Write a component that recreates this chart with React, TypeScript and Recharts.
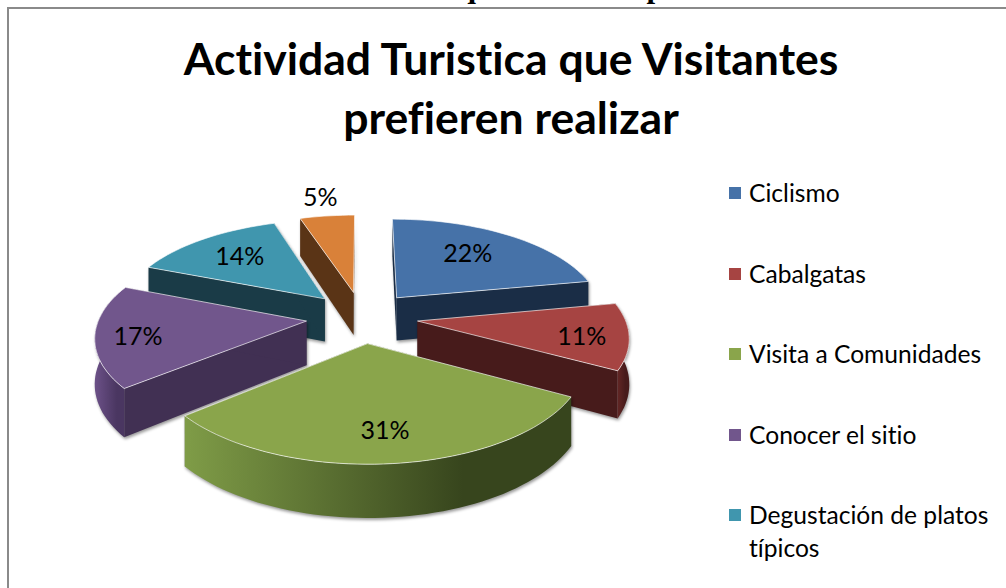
import React from "react";
import { PieChart, Pie, Legend } from "recharts";

const categories = [
  "Ciclismo",
  "Cabalgatas",
  "Visita a Comunidades",
  "Conocer el sitio",
  "Degustación de platos típicos",
  "Otros",
];
const shares = [22, 11, 31, 17, 14, 5];
const topColors = ["#4672a8", "#a64442", "#8aa54b", "#71568c", "#4096ae", "#d98139"];
const faceColors = ["#1a2d46", "#471b1b", "#3a4a1e", "#413053", "#1a3b47", "#5a3416"];
const wallFrom = ["#2a4570", "#6b2a28", "#7f9c47", "#6c5188", "#25566a", "#7a4a20"];
const wallTo = ["#1a2d46", "#471b1b", "#37451d", "#4a3661", "#1a3b47", "#5a3416"];
// label placement per slice: how far along the radius, and degrees off the middle
const labelReach = [0.68, 0.78, 0.74, 0.8, 0.7, 1.31];
const labelTurn = [-3, 1, 0, -1, 1, 0];
// back slices first so the front ones cover them
const paintOrder = [5, 4, 0, 3, 1, 2];
const legendCount = 5;

const pieData = categories.map((name, i) => ({ name, value: shares[i], slot: i }));

const WIDTH = 1006;
const HEIGHT = 588;
const TILT = 0.459; // ground plane squash
const PERSPECTIVE = 7;
const EXPLODE = 0.27;
const DEPTH = 44;

const unit = (angle: number) => {
  const t = ((90 - angle) * Math.PI) / 180;
  return [Math.sin(t), -Math.cos(t)];
};

const project = (cx: number, cy: number, r: number, u: number, v: number, z = 0) => {
  const s = 1 / (1 - v / PERSPECTIVE);
  return [cx + r * u * s, cy + (r * TILT * v + z) * s];
};

const toPath = (pts: number[][]) =>
  pts.map((p, i) => `${i ? "L" : "M"}${p[0].toFixed(1)} ${p[1].toFixed(1)}`).join(" ") + " Z";

const Slice3D = (props: any) => {
  const { cx, cy, outerRadius: r, startAngle, endAngle, slot } = props;
  const mid = unit((startAngle + endAngle) / 2);
  const ou = mid[0] * EXPLODE;
  const ov = mid[1] * EXPLODE;
  const steps = Math.max(8, Math.round(Math.abs(startAngle - endAngle) / 2));
  const rim: number[][] = [];
  for (let i = 0; i <= steps; i++) {
    const a = startAngle + ((endAngle - startAngle) * i) / steps;
    const p = unit(a);
    rim.push([ou + p[0], ov + p[1]]);
  }
  const top = rim.map((p) => project(cx, cy, r, p[0], p[1]));
  const low = rim.map((p) => project(cx, cy, r, p[0], p[1], DEPTH));
  const apexTop = project(cx, cy, r, ou, ov);
  const apexLow = project(cx, cy, r, ou, ov, DEPTH);
  const n = rim.length - 1;
  const xs = top.map((p) => p[0]);
  const gid = `wall-${slot}`;
  return (
    <g>
      <defs>
        <linearGradient
          id={gid}
          gradientUnits="userSpaceOnUse"
          x1={Math.min(...xs)}
          x2={Math.min(...xs) + (Math.max(...xs) - Math.min(...xs)) * 0.72}
          y1={0}
          y2={0}
        >
          <stop offset="0%" stopColor={wallFrom[slot]} />
          <stop offset="100%" stopColor={wallTo[slot]} />
        </linearGradient>
      </defs>
      <g style={{ filter: "drop-shadow(1px 2px 1.5px rgba(0,0,0,0.4))" }}>
        <path d={toPath([apexTop, top[0], low[0], apexLow])} fill={faceColors[slot]} />
        <path d={toPath([apexTop, top[n], low[n], apexLow])} fill={faceColors[slot]} />
        <path
          d={toPath([...top.filter((_, i) => rim[i][1] >= ov - 0.3), ...low.filter((_, i) => rim[i][1] >= ov - 0.3).reverse()])}
          fill={`url(#${gid})`}
        />
      </g>
      <path
        d={toPath([apexTop, ...top])}
        fill={topColors[slot]}
        stroke="#ffffff"
        strokeOpacity={0.65}
        strokeWidth={1}
        strokeLinejoin="round"
      />
    </g>
  );
};

const renderLabel = (props: any) => {
  const { cx, cy, outerRadius: r, midAngle, value, index } = props;
  const along = EXPLODE + labelReach[index];
  const p = unit(midAngle - labelTurn[index]);
  const pos = project(cx, cy, r, p[0] * along, p[1] * along);
  return (
    <text
      x={pos[0]}
      y={pos[1]}
      textAnchor="middle"
      dominantBaseline="central"
      fontFamily="Lato"
      fontSize={25}
      fill="#000"
      style={{ fontVariantLigatures: "none" }}
    >
      {`${value}%`}
    </text>
  );
};

const LegendList = () => (
  <div
    style={{
      position: "relative",
      width: 277,
      height: 418,
      fontFamily: "Lato",
      fontSize: 24.6,
      color: "#000",
      fontVariantLigatures: "none",
    }}
  >
    {categories.slice(0, legendCount).map((name, i) => (
      <div key={name} style={{ position: "absolute", left: 0, top: 80.5 * i, width: 277, display: "flex" }}>
        <span
          style={{
            width: 12,
            height: 12,
            marginTop: 11,
            marginRight: 8,
            flex: "none",
            background: topColors[i],
          }}
        />
        <span style={{ lineHeight: "33px", width: 250 }}>{name}</span>
      </div>
    ))}
  </div>
);

export default function App() {
  return (
    <div
      style={{
        position: "fixed",
        left: 0,
        top: 0,
        width: WIDTH,
        height: HEIGHT,
        overflow: "hidden",
        background: "#fff",
      }}
    >
      <div
        style={{
          position: "absolute",
          left: 159,
          top: -31,
          fontFamily: "Liberation Serif",
          fontWeight: "bold",
          fontSize: 31,
          whiteSpace: "nowrap",
        }}
      >
        Actividades Turísticas que visitantes prefieren realizar
      </div>
      <div
        style={{
          position: "absolute",
          left: 7,
          top: 7,
          width: 1010,
          height: 600,
          border: "2px solid #8a8a8a",
          boxSizing: "border-box",
        }}
      />
      <div
        style={{
          position: "absolute",
          left: 0,
          width: 1022,
          top: 28,
          textAlign: "center",
          fontFamily: "Lato",
          fontWeight: "bold",
          fontSize: 44.5,
          lineHeight: "59px",
          fontVariantLigatures: "none",
        }}
      >
        Actividad Turistica que Visitantes
        <br />
        prefieren realizar
      </div>
      <div style={{ position: "absolute", left: 0, top: 0 }}>
        <PieChart width={WIDTH} height={HEIGHT} margin={{ top: 0, right: 0, bottom: 0, left: 0 }}>
          {paintOrder.map((slot) => (
            <Pie
              key={slot}
              data={pieData}
              dataKey="value"
              nameKey="name"
              cx={362}
              cy={317}
              outerRadius={207}
              startAngle={90}
              endAngle={-270}
              legendType="none"
              isAnimationActive={false}
              shape={(p: any) => (p.payload?.slot === slot || p.slot === slot ? <Slice3D {...p} slot={slot} /> : <g />)}
            />
          ))}
          <Pie
            data={pieData}
            dataKey="value"
            nameKey="name"
            cx={362}
            cy={317}
            outerRadius={207}
            startAngle={90}
            endAngle={-270}
            legendType="none"
            isAnimationActive={false}
            shape={() => <g />}
            label={renderLabel}
            labelLine={false}
          />
          <Legend
            content={() => <LegendList />}
            layout="vertical"
            align="right"
            verticalAlign="top"
            wrapperStyle={{ left: 729, top: 176, width: 277, height: 418 }}
          />
        </PieChart>
      </div>
    </div>
  );
}
